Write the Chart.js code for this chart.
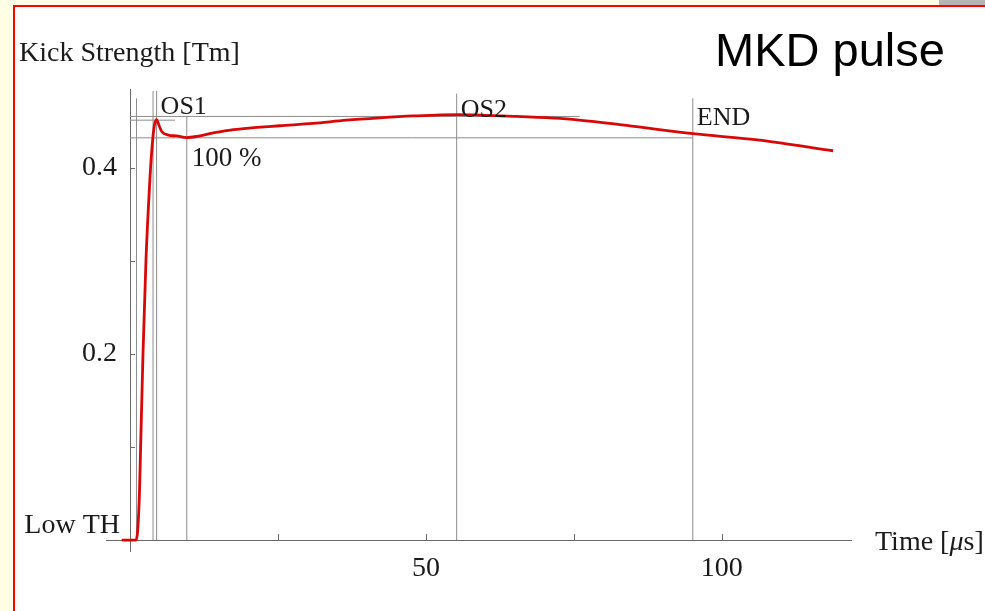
<!DOCTYPE html>
<html><head><meta charset="utf-8">
<script src="https://cdn.jsdelivr.net/npm/chart.js@4"></script>
<style>
html,body{margin:0;padding:0;background:#FFFFE6;}
#wrap{position:relative;width:985px;height:611px;overflow:hidden;background:#FFFFE6;}
#frame{position:absolute;left:13px;top:5px;right:0;bottom:0;background:#fff;border-left:2px solid #f00;border-top:2px solid #f00;}
#gray{position:absolute;left:939px;top:0;width:46px;height:5px;background:#b4b4b4;}
canvas{position:absolute;left:0;top:0;}
</style></head>
<body><div id="wrap"><div id="frame"></div><div id="gray"></div><canvas id="c" width="985" height="611"></canvas></div>
<script>
// ---- data ----
const timeUs = [-1.4, 1.0, 1.3, 1.6, 1.8, 2.2, 2.7, 3.3, 3.7, 4.1, 4.5, 4.9, 5.4, 6.5, 7.9, 9.6, 11.3, 13.5, 16.0, 19.7, 25.3, 30.9, 36.6, 42.2, 47.8, 55.5, 59.1, 65.3, 72.6, 75.2, 83.9, 95.1, 106.4, 118.8];
const kickTm = [0.0, 0.0, 0.01, 0.05, 0.1, 0.2, 0.3, 0.38, 0.42, 0.445, 0.452, 0.446, 0.439, 0.4355, 0.4345, 0.4328, 0.434, 0.437, 0.440, 0.4427, 0.4455, 0.448, 0.4515, 0.454, 0.456, 0.4575, 0.457, 0.4555, 0.4534, 0.452, 0.4458, 0.437, 0.430, 0.4186];

const xTickValues = [25, 50, 75, 100];
const xTickLabels = ['', '50', '', '100'];
const yTickValues = [0.1, 0.2, 0.3, 0.4];
const yTickLabels = ['', '0.2', '', '0.4'];
const lowThValue = 0.016;
const lowThLabel = 'Low TH';

// vertical marker lines (time, top value, label)
const markerTimes = [1.1, 3.9, 4.5, 9.6, 55.2, 95.1];
const markerTops = [0.475, 0.483, 0.483, 0.456, 0.48, 0.475];
const markerLabels = ['', '', 'OS1', '', 'OS2', 'END'];
// horizontal level lines (value, end time)
const levelValues = [0.4555, 0.4515, 0.4325];
const levelEnds = [76, 7.6, 95.1];
const levelLabels = ['', '', '100 %'];

const xMin = -4.05, xMax = 122, yMin = -0.0128, yMax = 0.485;

const yTitle = 'Kick Strength [Tm]';
const chartTitle = 'MKD pulse';

// ---- build datasets ----
const refColor = '#8c8c8c';
const datasets = [];
markerTimes.forEach((t, i) => datasets.push({
  data: [{x: t, y: 0}, {x: t, y: markerTops[i]}],
  borderColor: refColor, borderWidth: 1, pointRadius: 0, order: 2
}));
levelValues.forEach((v, i) => datasets.push({
  data: [{x: 0, y: v}, {x: levelEnds[i], y: v}],
  borderColor: refColor, borderWidth: 1, pointRadius: 0, order: 2
}));
datasets.push({
  data: timeUs.map((t, i) => ({x: t, y: kickTm[i]})),
  borderColor: '#d80808', borderWidth: 2.8, pointRadius: 0,
  cubicInterpolationMode: 'monotone', order: 0
});

const SERIF = '"Liberation Serif", "Times New Roman", serif';
const axisPlugin = {
  id: 'mathAxes',
  beforeDatasetsDraw(chart) {
    const {ctx, chartArea: a, scales: {x, y}} = chart;
    const x0 = x.getPixelForValue(0), y0 = y.getPixelForValue(0);
    ctx.save();
    ctx.strokeStyle = '#6a6a6a';
    ctx.lineWidth = 1;
    ctx.beginPath();
    ctx.moveTo(a.left, Math.round(y0) + 0.5); ctx.lineTo(a.right, Math.round(y0) + 0.5);
    ctx.moveTo(Math.round(x0) + 0.5, a.top); ctx.lineTo(Math.round(x0) + 0.5, a.bottom);
    xTickValues.forEach(v => {
      const px = Math.round(x.getPixelForValue(v)) + 0.5;
      ctx.moveTo(px, y0); ctx.lineTo(px, y0 - 6);
    });
    yTickValues.forEach(v => {
      const py = Math.round(y.getPixelForValue(v)) + 0.5;
      ctx.moveTo(x0, py); ctx.lineTo(x0 + 5, py);
    });
    ctx.stroke();
    ctx.restore();
  },
  afterDraw(chart) {
    const {ctx, chartArea: a, scales: {x, y}} = chart;
    const x0 = x.getPixelForValue(0), y0 = y.getPixelForValue(0);
    ctx.save();
    ctx.fillStyle = '#1a1a1a';
    ctx.font = '28px ' + SERIF;
    ctx.textBaseline = 'middle';
    // x tick labels
    ctx.textAlign = 'center';
    xTickValues.forEach((v, i) => {
      if (xTickLabels[i]) ctx.fillText(xTickLabels[i], x.getPixelForValue(v), y0 + 29);
    });
    // y tick labels
    ctx.textAlign = 'right';
    yTickValues.forEach((v, i) => {
      if (yTickLabels[i]) ctx.fillText(yTickLabels[i], x0 - 13, y.getPixelForValue(v));
    });
    ctx.fillText(lowThLabel, x0 - 10, y.getPixelForValue(lowThValue));
    // marker labels
    ctx.textAlign = 'left';
    ctx.textBaseline = 'alphabetic';
    ctx.font = '26px ' + SERIF;
    markerTimes.forEach((t, i) => {
      if (markerLabels[i]) ctx.fillText(markerLabels[i], x.getPixelForValue(t) + 4, y.getPixelForValue(markerTops[i]) + (i === 5 ? 27 : 23));
    });
    ctx.font = '27px ' + SERIF;
    levelValues.forEach((v, i) => {
      if (levelLabels[i]) ctx.fillText(levelLabels[i], x.getPixelForValue(markerTimes[3]) + 5, y.getPixelForValue(v) + 28);
    });
    // axis titles
    ctx.font = '28px ' + SERIF;
    ctx.fillText(yTitle, 19, 61);
    const tx = a.right + 23, ty = y0 + 10;
    ctx.fillText('Time [', tx, ty);
    let w = ctx.measureText('Time [').width;
    ctx.font = 'italic 28px ' + SERIF;
    ctx.fillText('\u03bc', tx + w, ty);
    w += ctx.measureText('\u03bc').width;
    ctx.font = '28px ' + SERIF;
    ctx.fillText('s]', tx + w, ty);
    // chart title
    ctx.font = '47px "Liberation Sans", Arial, sans-serif';
    ctx.fillStyle = '#000';
    ctx.fillText(chartTitle, 715, 66);
    ctx.restore();
  }
};

new Chart(document.getElementById('c'), {
  type: 'line',
  data: {datasets},
  options: {
    responsive: false,
    animation: false,
    layout: {padding: {left: 106, right: 133, top: 89, bottom: 59}},
    plugins: {legend: {display: false}, tooltip: {enabled: false}},
    scales: {
      x: {type: 'linear', min: xMin, max: xMax, display: false},
      y: {type: 'linear', min: yMin, max: yMax, display: false}
    }
  },
  plugins: [axisPlugin]
});
</script>
</body></html>
